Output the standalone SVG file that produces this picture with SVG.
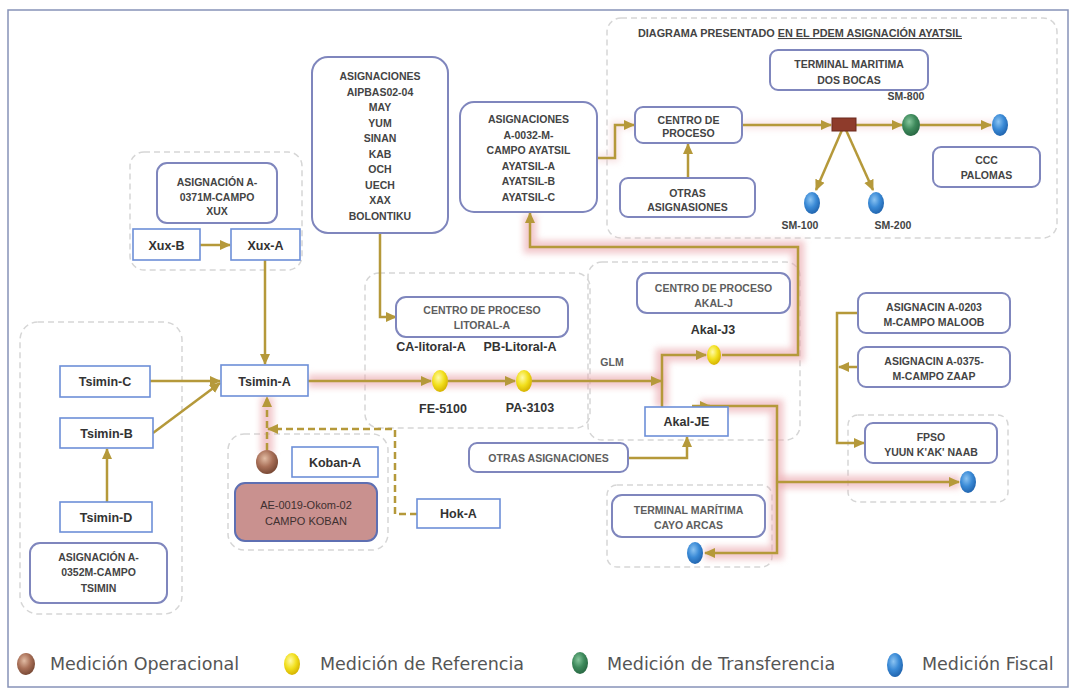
<svg xmlns="http://www.w3.org/2000/svg" width="1076" height="690" viewBox="0 0 1076 690">
<defs>
<style>
.rb{fill:#fff;stroke:#7f86bd;stroke-width:2}
.sb{fill:#fff;stroke:#6d8fd8;stroke-width:1.6}
.grp{fill:none;stroke:#d6d6d6;stroke-width:1.5;stroke-dasharray:6 4}
.t{font-family:"Liberation Sans",Arial,sans-serif;font-weight:bold;font-size:10.5px;fill:#444;text-anchor:middle}
.tg{fill:#5e5e5e}
.tn{font-family:"Liberation Sans",Arial,sans-serif;font-weight:bold;font-size:12.5px;fill:#333;text-anchor:middle}
.ln{fill:none;stroke:#b5993a;stroke-width:2.5}
.dsh{stroke-dasharray:7 4}
.glow{fill:none;stroke:#eaa6ab;stroke-width:13;opacity:.6;filter:url(#blur)}
.glow2{fill:none;stroke:#f1c8ca;stroke-width:8;opacity:.5;filter:url(#blur)}
.lg{font-family:"DejaVu Sans",Verdana,sans-serif;font-size:17.5px;fill:#555}
</style>
<marker id="ah" markerUnits="userSpaceOnUse" markerWidth="12" markerHeight="12" refX="10" refY="6" orient="auto"><path d="M0,1 L11,6 L0,11 z" fill="#b5993a"/></marker>
<filter id="blur" filterUnits="userSpaceOnUse" x="0" y="0" width="1076" height="690"><feGaussianBlur stdDeviation="3"/></filter>
<radialGradient id="gy" cx="40%" cy="35%" r="65%"><stop offset="0" stop-color="#fffaa8"/><stop offset=".55" stop-color="#f2e01e"/><stop offset="1" stop-color="#d6b400"/></radialGradient>
<radialGradient id="gb" cx="40%" cy="35%" r="65%"><stop offset="0" stop-color="#8cc4f2"/><stop offset=".55" stop-color="#3a8ad6"/><stop offset="1" stop-color="#2266b0"/></radialGradient>
<radialGradient id="gg" cx="40%" cy="35%" r="65%"><stop offset="0" stop-color="#86c69c"/><stop offset=".55" stop-color="#3e8a5c"/><stop offset="1" stop-color="#2a6a44"/></radialGradient>
<radialGradient id="gr" cx="40%" cy="35%" r="65%"><stop offset="0" stop-color="#e2bca4"/><stop offset=".55" stop-color="#a97058"/><stop offset="1" stop-color="#7a4a36"/></radialGradient>
</defs>

<rect x="8" y="10" width="1060" height="677" fill="#fff" stroke="#8792b8" stroke-width="1.5"/>

<g id="groups">
<rect class="grp" x="130" y="152" width="172" height="118" rx="14"/>
<rect class="grp" x="20" y="322" width="162" height="292" rx="18"/>
<rect class="grp" x="228" y="434" width="160" height="116" rx="16"/>
<rect class="grp" x="365" y="273" width="225" height="155" rx="14"/>
<rect class="grp" x="588" y="262" width="212" height="178" rx="14"/>
<rect class="grp" x="607" y="18" width="450" height="220" rx="14"/>
<rect class="grp" x="848" y="415" width="160" height="87" rx="10"/>
<rect class="grp" x="607" y="485" width="165" height="82" rx="10"/>
</g>

<g id="glows">
<path class="glow" d="M308,381 H662"/>
<path class="glow" d="M662,407 V355 H798 V247 H530 V215"/>
<path class="glow" d="M267,397 V455"/>
<path class="glow" d="M700,406 H777 V553 H705"/>
<path class="glow" d="M777,482 H960"/>
<path class="glow2" d="M597,158 H615 V125 H635"/>
<path class="glow2" d="M742,125 H1000"/>
</g>

<g id="connectors">
<path class="ln" d="M200,245 H230" marker-end="url(#ah)"/>
<path class="ln" d="M265,260 V364" marker-end="url(#ah)"/>
<path class="ln" d="M150,381 H220" marker-end="url(#ah)"/>
<path class="ln" d="M153,433 L220,383" marker-end="url(#ah)"/>
<path class="ln" d="M107,502 V449" marker-end="url(#ah)"/>
<path class="ln dsh" d="M267,450 V397" marker-end="url(#ah)"/>
<path class="ln dsh" d="M417,514 H395 V429 H268" marker-end="url(#ah)"/>
<path class="ln" d="M308,381 H431" marker-end="url(#ah)"/>
<path class="ln" d="M448,381 H515" marker-end="url(#ah)"/>
<path class="ln" d="M532,381 H661" marker-end="url(#ah)"/>
<path class="ln" d="M662,407 V355 H706" marker-end="url(#ah)"/>
<path class="ln" d="M722,355 H798 V247 H530 V213" marker-end="url(#ah)"/>
<path class="ln" d="M380,233 V317 H396" marker-end="url(#ah)"/>
<path class="ln" d="M628,458 H687 V437" marker-end="url(#ah)"/>
<path class="ln" d="M692,406 H710" marker-end="url(#ah)"/>
<path class="ln" d="M708,406 H777 V553 H705" marker-end="url(#ah)"/>
<path class="ln" d="M777,482 H959" marker-end="url(#ah)"/>
<path class="ln" d="M858,313 H837 V443 H864" marker-end="url(#ah)"/>
<path class="ln" d="M858,367 H839" marker-end="url(#ah)"/>
<path class="ln" d="M597,158 H615 V125 H634" marker-end="url(#ah)"/>
<path class="ln" d="M688,178 V144" marker-end="url(#ah)"/>
<path class="ln" d="M742,125 H831" marker-end="url(#ah)"/>
<path class="ln" d="M856,125 H902" marker-end="url(#ah)"/>
<path class="ln" d="M920,125 H991" marker-end="url(#ah)"/>
<path class="ln" d="M842,130 L816,190" marker-end="url(#ah)"/>
<path class="ln" d="M846,130 L873,190" marker-end="url(#ah)"/>
</g>

<g id="n-xux-label"><rect class="rb" x="157" y="163" width="120" height="60" rx="10"/>
<text class="t" x="217" y="186">ASIGNACIÓN A-</text><text class="t" x="217" y="201">0371M-CAMPO</text><text class="t" x="217" y="215">XUX</text></g>
<g id="n-xux-b"><rect class="sb" x="133" y="229" width="67" height="31"/><text class="tn" x="166.5" y="249.5">Xux-B</text></g>
<g id="n-xux-a"><rect class="sb" x="231" y="229" width="69" height="31"/><text class="tn" x="265.5" y="249.5">Xux-A</text></g>

<g id="n-aipbas"><rect class="rb" x="312" y="57" width="136" height="176" rx="16"/>
<text class="t" x="380" y="80">ASIGNACIONES</text><text class="t" x="380" y="96">AIPBAS02-04</text><text class="t" x="380" y="111">MAY</text><text class="t" x="380" y="127">YUM</text><text class="t" x="380" y="142">SINAN</text><text class="t" x="380" y="158">KAB</text><text class="t" x="380" y="173">OCH</text><text class="t" x="380" y="189">UECH</text><text class="t" x="380" y="204">XAX</text><text class="t" x="380" y="220">BOLONTIKU</text></g>

<g id="n-ayatsil"><rect class="rb" x="460" y="102" width="137" height="110" rx="14"/>
<text class="t" x="528.5" y="123">ASIGNACIONES</text><text class="t" x="528.5" y="139">A-0032-M-</text><text class="t" x="528.5" y="154">CAMPO AYATSIL</text><text class="t" x="528.5" y="170">AYATSIL-A</text><text class="t" x="528.5" y="185">AYATSIL-B</text><text class="t" x="528.5" y="201">AYATSIL-C</text></g>

<g id="n-title"><text class="t" x="638" y="37" style="text-anchor:start" textLength="324" lengthAdjust="spacingAndGlyphs">DIAGRAMA PRESENTADO <tspan text-decoration="underline">EN EL PDEM ASIGNACIÓN AYATSIL</tspan></text></g>

<g id="n-centro"><rect class="rb" x="635" y="107" width="107" height="36" rx="8"/>
<text class="t" x="688.5" y="124">CENTRO DE</text><text class="t" x="688.5" y="137">PROCESO</text></g>
<g id="n-otras-asig"><rect class="rb" x="620" y="178" width="135" height="39" rx="8"/>
<text class="t" x="687.5" y="197">OTRAS</text><text class="t" x="687.5" y="211">ASIGNASIONES</text></g>
<g id="n-dosbocas"><rect class="rb" x="770" y="50" width="158" height="40" rx="8"/>
<text class="t" x="849" y="68">TERMINAL MARITIMA</text><text class="t" x="849" y="84">DOS BOCAS</text></g>
<g id="n-manifold"><rect x="832" y="118" width="24" height="13" fill="#8e3b2b" stroke="#6b2a1e" stroke-width="1"/></g>
<g id="n-sm800"><ellipse cx="911" cy="125" rx="9" ry="11" fill="url(#gg)"/><text class="t" x="906" y="100">SM-800</text></g>
<g id="n-ccc-ball"><ellipse cx="1000" cy="125" rx="8" ry="11" fill="url(#gb)"/></g>
<g id="n-ccc"><rect class="rb" x="933" y="147" width="107" height="40" rx="8"/>
<text class="t" x="986.5" y="164">CCC</text><text class="t" x="986.5" y="179">PALOMAS</text></g>
<g id="n-sm100"><ellipse cx="812" cy="203" rx="8" ry="11" fill="url(#gb)"/><text class="t" x="800" y="229">SM-100</text></g>
<g id="n-sm200"><ellipse cx="876" cy="203" rx="8" ry="11" fill="url(#gb)"/><text class="t" x="893" y="229">SM-200</text></g>

<g id="n-tsimin-a"><rect class="sb" x="221" y="365" width="87" height="31"/><text class="tn" x="264.5" y="385.5">Tsimin-A</text></g>
<g id="n-tsimin-c"><rect class="sb" x="60" y="366" width="90" height="31"/><text class="tn" x="105" y="386">Tsimin-C</text></g>
<g id="n-tsimin-b"><rect class="sb" x="60" y="418" width="93" height="30"/><text class="tn" x="106.5" y="437.5">Tsimin-B</text></g>
<g id="n-tsimin-d"><rect class="sb" x="60" y="502" width="92" height="30"/><text class="tn" x="106" y="521.5">Tsimin-D</text></g>
<g id="n-tsimin-label"><rect class="rb" x="30" y="543" width="137" height="60" rx="10"/>
<text class="t" x="98.5" y="561">ASIGNACIÓN A-</text><text class="t" x="98.5" y="576">0352M-CAMPO</text><text class="t" x="98.5" y="592">TSIMIN</text></g>

<g id="n-koban-ball"><ellipse cx="267" cy="462" rx="11" ry="12" fill="url(#gr)"/></g>
<g id="n-koban-a"><rect class="sb" x="292" y="447" width="86" height="30"/><text class="tn" x="335" y="466.5">Koban-A</text></g>
<g id="n-koban"><rect x="235" y="483" width="142" height="58" rx="10" fill="#c9918f" stroke="#5e6fb2" stroke-width="2"/>
<text class="t" x="306" y="509" style="font-weight:normal;font-size:11px;fill:#3e3030">AE-0019-Okom-02</text><text class="t" x="306" y="525" style="font-weight:normal;font-size:11px;fill:#3e3030">CAMPO KOBAN</text></g>
<g id="n-hok-a"><rect class="sb" x="417" y="499" width="83" height="29"/><text class="tn" x="458.5" y="518">Hok-A</text></g>

<g id="n-litoral"><rect class="rb" x="396" y="297" width="172" height="40" rx="10"/>
<text class="t tg" x="482" y="314">CENTRO DE PROCESO</text><text class="t tg" x="482" y="329">LITORAL-A</text></g>
<g id="labels-litoral">
<text class="tn" x="431" y="351">CA-litoral-A</text><text class="tn" x="520" y="351">PB-Litoral-A</text>
<text class="tn" x="443" y="413">FE-5100</text><text class="tn" x="530" y="412">PA-3103</text>
<text class="t tg" x="612" y="366">GLM</text></g>
<g id="n-fe5100"><ellipse cx="440" cy="381" rx="8" ry="11" fill="url(#gy)"/></g>
<g id="n-pa3103"><ellipse cx="524" cy="381" rx="8" ry="11" fill="url(#gy)"/></g>

<g id="n-akal-centro"><rect class="rb" x="637" y="273" width="153" height="40" rx="10"/>
<text class="t tg" x="713.5" y="292">CENTRO DE PROCESO</text><text class="t tg" x="713.5" y="307">AKAL-J</text></g>
<g id="n-akal-j3"><ellipse cx="714" cy="355" rx="7" ry="10" fill="url(#gy)"/><text class="tn" x="713" y="334">Akal-J3</text></g>
<g id="n-akal-je"><rect class="sb" x="645" y="407" width="83" height="29"/><text class="tn" x="686.5" y="426">Akal-JE</text></g>
<g id="n-otras-asignaciones"><rect class="rb" x="469" y="443" width="159" height="29" rx="8"/><text class="t tg" x="548.5" y="462">OTRAS ASIGNACIONES</text></g>
<g id="n-cayo"><rect class="rb" x="612" y="495" width="153" height="42" rx="10"/>
<text class="t tg" x="688.5" y="514">TERMINAL MARÍTIMA</text><text class="t tg" x="688.5" y="529">CAYO ARCAS</text></g>
<g id="n-cayo-ball"><ellipse cx="695" cy="553" rx="8" ry="11" fill="url(#gb)"/></g>

<g id="n-maloob"><rect class="rb" x="858" y="293" width="152" height="40" rx="8"/>
<text class="t" x="934" y="311">ASIGNACIN A-0203</text><text class="t" x="934" y="326">M-CAMPO MALOOB</text></g>
<g id="n-zaap"><rect class="rb" x="858" y="347" width="152" height="40" rx="8"/>
<text class="t" x="934" y="365">ASIGNACIN A-0375-</text><text class="t" x="934" y="380">M-CAMPO ZAAP</text></g>
<g id="n-fpso"><rect class="rb" x="865" y="423" width="132" height="40" rx="8"/>
<text class="t" x="931" y="441">FPSO</text><text class="t" x="931" y="456">YUUN K'AK' NAAB</text></g>
<g id="n-fpso-ball"><ellipse cx="968" cy="482" rx="8" ry="11" fill="url(#gb)"/></g>

<g id="legend">
<ellipse cx="26" cy="664" rx="9" ry="11" fill="url(#gr)"/><text class="lg" x="50" y="670">Medición Operacional</text>
<ellipse cx="292" cy="664" rx="8" ry="11" fill="url(#gy)"/><text class="lg" x="320" y="670">Medición de Referencia</text>
<ellipse cx="580" cy="663" rx="8" ry="11" fill="url(#gg)"/><text class="lg" x="607" y="670">Medición de Transferencia</text>
<ellipse cx="895" cy="665" rx="8" ry="12" fill="url(#gb)"/><text class="lg" x="922" y="670">Medición Fiscal</text>
</g>
</svg>
